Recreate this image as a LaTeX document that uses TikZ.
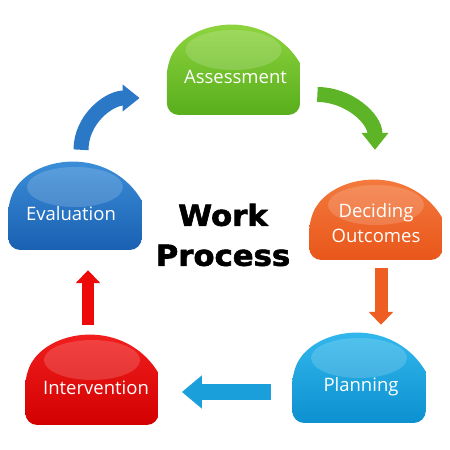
\documentclass[tikz,border=0pt]{standalone}
\usepackage{fontspec}
\usetikzlibrary{arrows.meta,calc}
\newfontfamily\labelfont{Open Sans}
\newfontfamily\titlefont[FakeStretch=1.06,FakeBold=2]{DejaVu Sans}

\definecolor{greenTop}{HTML}{94D843}
\definecolor{greenBot}{HTML}{58AE1C}
\definecolor{navyTop}{HTML}{3F93DC}
\definecolor{navyBot}{HTML}{1A60B2}
\definecolor{orangeTop}{HTML}{F47E42}
\definecolor{orangeBot}{HTML}{E9561A}
\definecolor{redTop}{HTML}{F52222}
\definecolor{redBot}{HTML}{D20000}
\definecolor{skyTop}{HTML}{36BCEF}
\definecolor{skyBot}{HTML}{0D90D0}
\definecolor{greenArr}{HTML}{5DB426}
\definecolor{navyArr}{HTML}{2A78C6}
\definecolor{orangeArr}{HTML}{EE5E22}
\definecolor{redArr}{HTML}{EC0A0A}
\definecolor{skyArr}{HTML}{1A9FDB}

\begin{document}
\begin{tikzpicture}[x=1pt, y=1pt]
% -------------------------------------------------
% Styles: dome shaped boxes and the fat arrows
\tikzset{
  dome/.style n args={3}{minimum width=133.4pt, minimum height=#3, inner sep=0pt,
    path picture={
      \shade[top color=#1, bottom color=#2, rounded corners=12pt]
        ([yshift=#3-38.5pt]path picture bounding box.south east)
        -- (path picture bounding box.south east)
        -- (path picture bounding box.south west)
        -- ([yshift=#3-38.5pt]path picture bounding box.south west)
        [sharp corners] arc[start angle=150, end angle=30, radius=77pt] -- cycle;
      \fill[white, opacity=0.16]
        ([yshift=-25pt]path picture bounding box.north) ellipse[x radius=48pt, y radius=20pt];
    }},
  tag/.style={text=white, font=\labelfont\fontsize{18.5}{25}\selectfont, align=center},
  bent/.style={line width=15pt, -{Triangle[length=17pt, width=26pt]}},
  flat/.style={line width=#1, -{Triangle[length=13pt, width=24pt]}},
  wide/.style={line width=16pt, -{Triangle[length=20pt, width=32pt]}},
}
\useasboundingbox (0,0) rectangle (450,450);

% -------------------------------------------------
% Boxes
\node [dome={greenTop}{greenBot}{90pt}]   (assess) at (233.5,380) {};
\node [dome={orangeTop}{orangeBot}{80pt}] (decide) at (376,230) {};
\node [dome={skyTop}{skyBot}{90pt}]       (plan)   at (359,72) {};
\node [dome={redTop}{redBot}{90pt}]       (interv) at (92,70) {};
\node [dome={navyTop}{navyBot}{88pt}]     (eval)   at (75,244) {};

% Labels
\node [tag] (assessTxt) at ([shift={(2pt,-7pt)}]assess.center) {Assessment};
\node [tag] (decideTxt) at ([yshift=-3pt]decide.center) {Deciding\\Outcomes};
\node [tag] (planTxt)   at ([shift={(2pt,-9pt)}]plan.center)   {Planning};
\node [tag] (intervTxt) at ([shift={(4pt,-8pt)}]interv.center) {Intervention};
\node [tag] (evalTxt)   at ([shift={(-4pt,-8pt)}]eval.center)  {Evaluation};

\node [font=\titlefont\bfseries\fontsize{29}{40}\selectfont, align=center] (title) at (223,215) {Work\\Process};

% -------------------------------------------------
% Arrows
\draw [bent, navyArr] ([shift={(6pt,12pt)}]eval.north) to [out=90, in=180] ([shift={(-27pt,-28pt)}]assess.west);
\draw [bent, greenArr] ([shift={(17pt,-24.5pt)}]assess.east) to [out=0, in=90] ([shift={(-1pt,30pt)}]decide.north);
\draw [flat=13pt, orangeArr, shorten <=8pt, shorten >=8pt] ([xshift=5pt]decide.south) -- ([xshift=5pt]decide.south |- plan.north);
\draw [wide, skyArr, shorten <=21pt, shorten >=23pt] ([yshift=-14pt]plan.west) -- ([yshift=-14pt]plan.west -| interv.east);
\draw [flat=12pt, redArr, shorten <=10pt, shorten >=20pt] ([xshift=-4pt]interv.north) -- ([xshift=-4pt]interv.north |- eval.south);

% -------------------------------------------------
\end{tikzpicture}
\end{document}
